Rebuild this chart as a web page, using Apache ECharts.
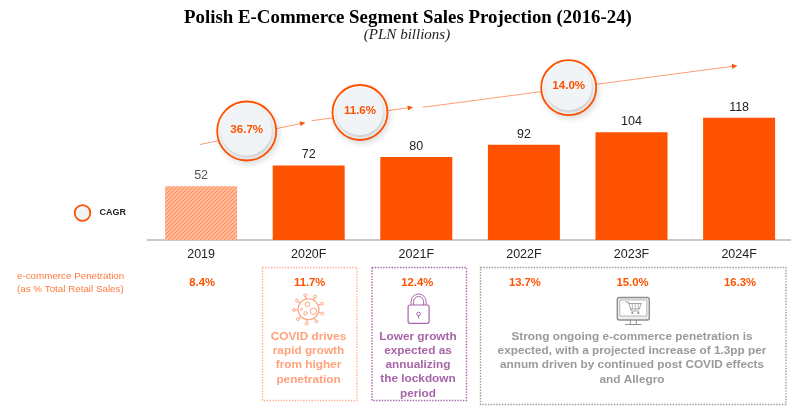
<!DOCTYPE html>
<html><head><meta charset="utf-8">
<style>html,body{margin:0;padding:0;background:#fff}#c{width:791px;height:410px}</style>
<script src="https://cdn.jsdelivr.net/npm/echarts@6/dist/echarts.min.js"></script>
</head><body><div id="c"></div>
<script>
const categories = ['2019','2020F','2021F','2022F','2023F','2024F'];
const salesValues = [52,72,80,92,104,118];
const penetration = ['8.4%','11.7%','12.4%','13.7%','15.0%','16.3%'];
const cagrLabels = ['36.7%','11.6%','14.0%'];
const noteCovid = 'COVID drives\nrapid growth\nfrom higher\npenetration';
const noteLock = 'Lower growth\nexpected as\nannualizing\nthe lockdown\nperiod';
const noteOngoing = 'Strong ongoing e-commerce penetration is\nexpected, with a projected increase of 1.3pp per\nannum driven by continued post COVID effects\nand Allegro';

const ORANGE='#ff5200', FONT='"Liberation Sans",Arial,sans-serif';
const chart = echarts.init(document.getElementById('c'),null,{renderer:'canvas'});

// hatch pattern for the 2019 bar
const pc=document.createElement('canvas');pc.width=pc.height=4;
const px=pc.getContext('2d');px.fillStyle='#ffc4a8';px.fillRect(0,0,4,4);
px.strokeStyle='#ff8a55';px.lineWidth=1.1;
[[-1,5,5,-1],[-1,1,1,-1],[3,5,5,3]].forEach(l=>{px.beginPath();px.moveTo(l[0],l[1]);px.lineTo(l[2],l[3]);px.stroke();});

chart.setOption({
  animation:false,
  title:[
    {text:'Polish E-Commerce Segment Sales Projection (2016-24)',left:403,top:4,textAlign:'center',
     textStyle:{fontFamily:'"Liberation Serif",serif',fontWeight:'bold',fontSize:18.85,color:'#000'}},
    {text:'(PLN billions)',left:402,top:23,textAlign:'center',
     textStyle:{fontFamily:'"Liberation Serif",serif',fontStyle:'italic',fontWeight:'normal',fontSize:15,color:'#222'}}
  ],
  grid:{left:147.3,top:84.6,width:645.6,height:155.4,outerBoundsMode:'none'},
  xAxis:{type:'category',data:categories,axisTick:{show:false},
    axisLine:{lineStyle:{color:'#b8b8b8',width:1.5}},
    axisLabel:{fontFamily:FONT,fontSize:12.5,color:'#222',margin:8}},
  yAxis:{type:'value',min:0,max:150,show:false,splitLine:{show:false}},
  series:[{type:'bar',barWidth:72,
    data:salesValues.map((v,i)=>i===0?{value:v,itemStyle:{color:{image:pc,repeat:'repeat'}},label:{color:'#555'}}:v),
    itemStyle:{color:ORANGE},
    label:{show:true,position:'top',distance:4,fontFamily:FONT,fontSize:12.5,color:'#222'}}]
});

function cx(i){return chart.convertToPixel({xAxisIndex:0},categories[i]);}
const g=[];
function txt(x,y,t,o){g.push({type:'text',z:o.z||5,x,y,style:{text:t,fill:o.c,font:(o.w||'normal')+' '+o.s+'px '+FONT,
  align:o.a||'center',verticalAlign:'middle',lineHeight:o.lh}});}
function poly(points,c,w,z){g.push({type:'polyline',z:z||2,shape:{points},style:{fill:'none',stroke:c,lineWidth:w}});}
function arrow(x1,y1,x2,y2){
  const c='#ff9d73';
  g.push({type:'line',z:1,shape:{x1,y1,x2,y2},style:{stroke:c,lineWidth:1}});
  const a=Math.atan2(y2-y1,x2-x1),L=5,W=2.6;
  const p=[[x2,y2],[x2-L*Math.cos(a)+W*Math.sin(a),y2-L*Math.sin(a)-W*Math.cos(a)],[x2-L*Math.cos(a)-W*Math.sin(a),y2-L*Math.sin(a)+W*Math.cos(a)]];
  g.push({type:'polygon',z:1,shape:{points:p},style:{fill:ORANGE}});
}
function bubble(x,y,r,t){
  g.push({type:'circle',z:2,shape:{cx:x,cy:y,r:r-1},style:{fill:'#fff',stroke:ORANGE,lineWidth:1.8,shadowBlur:6,shadowColor:'rgba(0,0,0,0.12)',shadowOffsetX:2,shadowOffsetY:3}});
  g.push({type:'circle',z:3,shape:{cx:x-.3,cy:y-.8,r:r-5},style:{fill:'#f1f4f6',shadowBlur:4,shadowColor:'rgba(0,0,0,0.22)',shadowOffsetX:1,shadowOffsetY:2.5}});
  if(t)txt(x,y-1.6,t,{c:ORANGE,w:'bold',s:11.6,z:4});
}
function box(x,y,w,h,c){g.push({type:'rect',z:1,shape:{x:x+.5,y:y+.5,width:w,height:h},style:{fill:'none',stroke:c,lineWidth:1.4,lineDash:[1.4,1.4]}});}

arrow(200,144.5,305,122.7);arrow(311.7,120.7,412.7,107.3);arrow(422.7,107.3,737,65.7);
bubble(246.7,131,30.5,cagrLabels[0]);
bubble(360,112.5,28.5,cagrLabels[1]);
bubble(568.7,87.7,28.5,cagrLabels[2]);
g.push({type:'circle',z:2,shape:{cx:82.5,cy:213,r:7.8},style:{fill:'#f1f4f6',stroke:ORANGE,lineWidth:1.8}});
txt(99.5,213,'CAGR',{c:'#222',w:'bold',s:9,a:'left'});

txt(17,276.5,'e-commerce Penetration',{c:'#ff7a3d',s:9.8,a:'left'});
txt(17,289,'(as % Total Retail Sales)',{c:'#ff7a3d',s:9.8,a:'left'});
penetration.forEach((p,i)=>txt(cx(i)+1,283,p,{c:ORANGE,w:'bold',s:11.3}));

box(262,267,94.5,133,'#ffb08f');
box(371.5,267,94.5,133,'#a565a5');
box(480,267,305.5,137,'#999');
txt(308.5,358,noteCovid,{c:'#ffa27c',w:'bold',s:11.8,lh:14.2});
txt(418,365,noteLock,{c:'#a864a8',w:'bold',s:11.8,lh:14.2});
txt(632,358,noteOngoing,{c:'#9a9a9a',w:'bold',s:11.8,lh:14.2});

// virus icon
(function(){const x=308.5,y=309.3,c='#ffa27c',n=9;
  g.push({type:'circle',z:2,shape:{cx:x,cy:y,r:10.5},style:{fill:'none',stroke:c,lineWidth:1.1}});
  for(let k=0;k<n;k++){const a=k/n*Math.PI*2+.3,cs=Math.cos(a),sn=Math.sin(a);
    g.push({type:'line',z:2,shape:{x1:x+10.5*cs,y1:y+10.5*sn,x2:x+13.5*cs,y2:y+13.5*sn},style:{stroke:c,lineWidth:1.1}});
    g.push({type:'circle',z:2,shape:{cx:x+14.5*cs,cy:y+14.5*sn,r:1.4},style:{fill:'#fff',stroke:c,lineWidth:1}});}
  [[-1,-5,2.3],[-3,4,1.7],[5,2,3.2],[-7,0,1]].forEach(b=>g.push({type:'circle',z:2,shape:{cx:x+b[0],cy:y+b[1],r:b[2]},style:{fill:'none',stroke:c,lineWidth:1}}));
})();
// lock icon
(function(){const c='#a864a8',x=418.6;
  g.push({type:'rect',z:2,shape:{x:x-10.5,y:305,width:21,height:18.3,r:2},style:{fill:'none',stroke:c,lineWidth:1.2}});
  [7.5,5].forEach(r=>{
    g.push({type:'arc',z:2,shape:{cx:x,cy:301.5,r,startAngle:Math.PI,endAngle:Math.PI*2,clockwise:true},style:{fill:'none',stroke:c,lineWidth:1}});
    poly([[x-r,301.5],[x-r,305]],c,1);poly([[x+r,301.5],[x+r,305]],c,1);
  });
  g.push({type:'circle',z:2,shape:{cx:x,cy:314,r:1.8},style:{fill:'none',stroke:c,lineWidth:1}});
  g.push({type:'line',z:2,shape:{x1:x,y1:315.6,x2:x,y2:318.5},style:{stroke:c,lineWidth:1}});
})();
// monitor with cart icon
(function(){const c='#8f8f8f',x=633.3;
  g.push({type:'rect',z:2,shape:{x:x-16,y:297.5,width:32,height:22.5,r:2},style:{fill:'#eee',stroke:c,lineWidth:1.4}});
  g.push({type:'rect',z:2,shape:{x:x-13.5,y:300,width:27,height:16,r:0},style:{fill:'#fff',stroke:c,lineWidth:.6}});
  poly([[x-3,320],[x-3,324]],c,1);poly([[x+3,320],[x+3,324]],c,1);poly([[x-8,324.5],[x+8,324.5]],c,1);
  poly([[x-8,302],[x-5,302],[x-2,311],[x+6,311]],c,.8,3);
  poly([[x-5,303.5],[x+8,303.5],[x+6,309],[x-3,309]],c,.8,3);
  [-1,2,5].forEach(d=>poly([[x+d,303.5],[x+d,309]],c,.7,3));
  g.push({type:'circle',z:3,shape:{cx:x-1,cy:313,r:1.1},style:{fill:c}});
  g.push({type:'circle',z:3,shape:{cx:x+5,cy:313,r:1.1},style:{fill:c}});
})();
chart.setOption({graphic:{elements:g}});
</script></body></html>
